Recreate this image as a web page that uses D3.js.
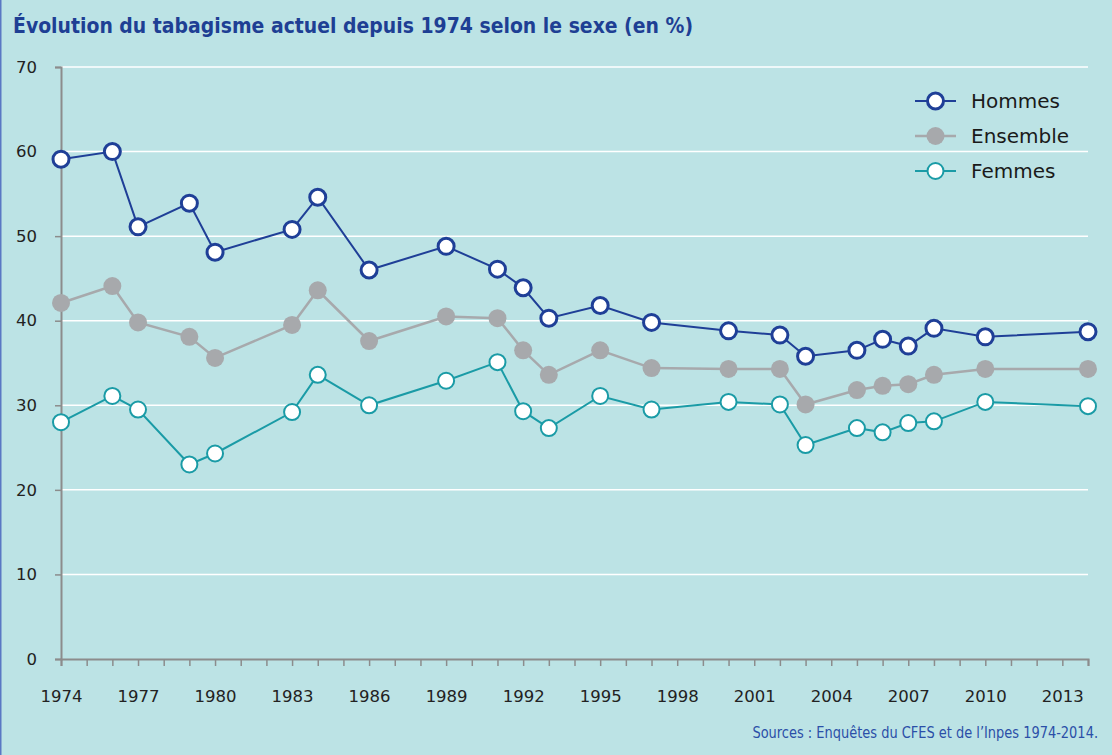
<!DOCTYPE html>
<html>
<head>
<meta charset="utf-8">
<script src="https://cdn.jsdelivr.net/npm/d3@7"></script>
<style>
  html, body { margin: 0; padding: 0; background: #bce3e5; }
  svg { display: block; }
</style>
</head>
<body>
<div id="chart"></div>
<script>
// Data
const years = [1974, 1976, 1977, 1979, 1980, 1983, 1984, 1986, 1989, 1991, 1992, 1993,
  1995, 1997, 2000, 2002, 2003, 2005, 2006, 2007, 2008, 2010, 2014];
const hommes = [59.1, 60.0, 51.1, 53.9, 48.1, 50.8, 54.6, 46.0, 48.8, 46.1, 43.9, 40.3,
  41.8, 39.8, 38.8, 38.3, 35.8, 36.5, 37.8, 37.0, 39.1, 38.1, 38.7];
const ensemble = [42.1, 44.1, 39.8, 38.1, 35.6, 39.5, 43.6, 37.6, 40.5, 40.3, 36.5, 33.6,
  36.5, 34.4, 34.3, 34.3, 30.1, 31.8, 32.3, 32.5, 33.6, 34.3, 34.3];
const femmes = [28.0, 31.1, 29.5, 23.0, 24.3, 29.2, 33.6, 30.0, 32.9, 35.1, 29.3, 27.3,
  31.1, 29.5, 30.4, 30.1, 25.3, 27.3, 26.8, 27.9, 28.1, 30.4, 29.9];
const yTicks = [0, 10, 20, 30, 40, 50, 60, 70];
const xLabels = [1974, 1977, 1980, 1983, 1986, 1989, 1992, 1995, 1998, 2001, 2004, 2007, 2010, 2013];

const width = 1112, height = 755;
const margin = { left: 61, right: 24, top: 67, bottom: 96 };
const tickFont = "DejaVu Sans, Verdana, sans-serif";
const narrowFont = "Liberation Sans Narrow, DejaVu Sans Condensed, Arial Narrow, sans-serif";

const svg = d3.select("#chart").append("svg")
  .attr("width", width)
  .attr("height", height)
  .attr("viewBox", [0, 0, width, height]);

svg.append("rect").attr("width", width).attr("height", height).attr("fill", "#bce3e5");
// Thin border on the left edge
svg.append("line")
  .attr("x1", 0.75).attr("x2", 0.75).attr("y1", 0).attr("y2", height)
  .attr("stroke", "#5a78c4").attr("stroke-width", 1.5);

const x = d3.scaleLinear().domain([1974, 2014]).range([margin.left, width - margin.right]);
const y = d3.scaleLinear().domain([0, 70]).range([height - margin.bottom, margin.top]);

// Gridlines
svg.append("g")
  .selectAll("line")
  .data(yTicks.filter(d => d > 0))
  .join("line")
  .attr("x1", x(1974)).attr("x2", x(2014))
  .attr("y1", d => y(d)).attr("y2", d => y(d))
  .attr("stroke", "#ffffff").attr("stroke-width", 1.5);

// Y axis
const yAxis = svg.append("g")
  .attr("transform", `translate(${x(1974)},0)`)
  .call(d3.axisLeft(y).tickValues(yTicks).tickSize(6).tickPadding(18));
yAxis.select(".domain").attr("stroke", "#8c8c8c").attr("stroke-width", 2);
yAxis.selectAll(".tick line").attr("stroke", "#8c8c8c").attr("stroke-width", 1.5);
yAxis.selectAll(".tick text")
  .attr("font-family", tickFont)
  .attr("font-size", "16.5px").attr("fill", "#222");

// X axis: one tick per year, labels every 3 years
const xAxis = svg.append("g")
  .attr("transform", `translate(0,${y(0)})`)
  .call(d3.axisBottom(x).tickValues(d3.range(1974, 2015)).tickSize(7).tickSizeOuter(7)
    .tickFormat(d => xLabels.includes(d) ? d : "").tickPadding(24));
xAxis.select(".domain").attr("stroke", "#8c8c8c").attr("stroke-width", 2);
xAxis.selectAll(".tick line").attr("stroke", "#8c8c8c").attr("stroke-width", 1.5);
xAxis.selectAll(".tick text")
  .attr("font-family", tickFont)
  .attr("font-size", "16.5px").attr("fill", "#222");

const series = [
  { name: "Hommes", values: hommes, color: "#1f3f97", fill: "#ffffff", r: 8, sw: 2, msw: 3 },
  { name: "Ensemble", values: ensemble, color: "#a7a9ac", fill: "#a7a9ac", r: 9, sw: 2.5, msw: 0 },
  { name: "Femmes", values: femmes, color: "#1a9ba6", fill: "#ffffff", r: 8, sw: 2, msw: 2 }
];

const line = d3.line().x((d, i) => x(years[i])).y(d => y(d));

// Draw from back to front: Femmes, Ensemble, Hommes
[...series].reverse().forEach(s => {
  const g = svg.append("g");
  g.append("path")
    .datum(s.values)
    .attr("fill", "none")
    .attr("stroke", s.color)
    .attr("stroke-width", s.sw)
    .attr("d", line);
  g.selectAll("circle")
    .data(s.values)
    .join("circle")
    .attr("cx", (d, i) => x(years[i]))
    .attr("cy", d => y(d))
    .attr("r", s.r)
    .attr("fill", s.fill)
    .attr("stroke", s.msw ? s.color : "none")
    .attr("stroke-width", s.msw);
});

// Legend
const legend = svg.append("g").attr("transform", "translate(915,101)");
series.forEach((s, i) => {
  const row = legend.append("g").attr("transform", `translate(0,${i * 35})`);
  row.append("line")
    .attr("x1", 0).attr("x2", 41).attr("y1", 0).attr("y2", 0)
    .attr("stroke", s.color).attr("stroke-width", s.sw);
  row.append("circle")
    .attr("cx", 20.5).attr("cy", 0).attr("r", s.r)
    .attr("fill", s.fill)
    .attr("stroke", s.msw ? s.color : "none")
    .attr("stroke-width", s.msw);
  row.append("text")
    .attr("x", 56).attr("y", 0).attr("dy", "0.36em")
    .attr("font-family", tickFont)
    .attr("font-size", "20px").attr("fill", "#1a1a1a")
    .text(s.name);
});

// Title (squeezed to the condensed width of the original)
svg.append("text")
  .attr("x", 13).attr("y", 33)
  .attr("font-family", narrowFont)
  .attr("font-weight", "bold")
  .attr("font-size", "22px")
  .attr("fill", "#1e3f94")
  .attr("textLength", 680)
  .attr("lengthAdjust", "spacingAndGlyphs")
  .text("Évolution du tabagisme actuel depuis 1974 selon le sexe (en %)");

// Source, right-aligned and narrowed a little to mimic the condensed face
const source = svg.append("text")
  .attr("x", 0).attr("y", 0)
  .attr("text-anchor", "end")
  .attr("font-family", narrowFont)
  .attr("font-size", "16px")
  .attr("fill", "#2b4fa8")
  .text("Sources : Enquêtes du CFES et de l’Inpes 1974-2014.");
const natural = source.node().getComputedTextLength();
source.attr("transform", `translate(1098,738) scale(${Math.min(1, 346 / natural)},1)`);
</script>
</body>
</html>
